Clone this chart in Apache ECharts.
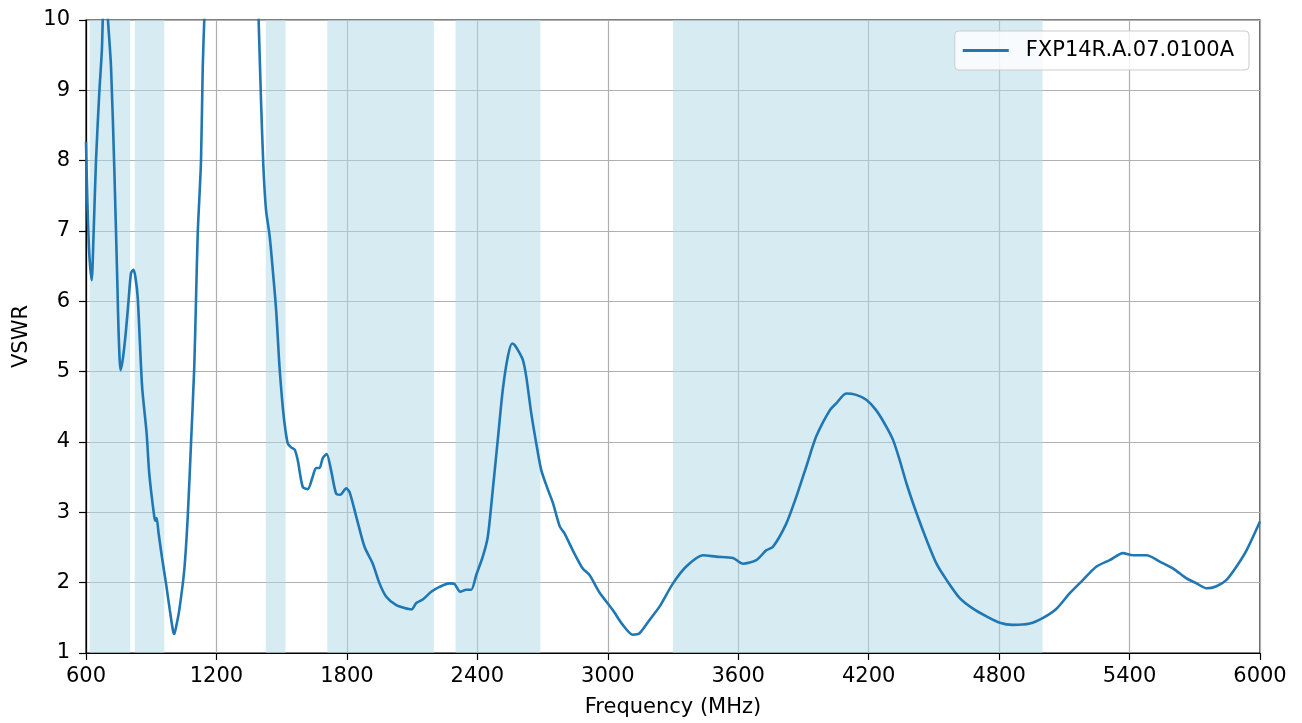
<!DOCTYPE html>
<html>
<head>
<meta charset="utf-8">
<script src="https://cdn.jsdelivr.net/npm/echarts@6/dist/echarts.min.js"></script>
<style>html,body{margin:0;padding:0;background:#fff;}#c{width:1302px;height:723px;}</style>
</head>
<body>
<div id="c"></div>
<script>
const seriesName = 'FXP14R.A.07.0100A';
const xTicks = [600, 1200, 1800, 2400, 3000, 3600, 4200, 4800, 5400, 6000];
const yTicks = [1, 2, 3, 4, 5, 6, 7, 8, 9, 10];
const bandStart = [617, 824, 1427, 1710, 2300, 3300];
const bandEnd   = [803, 960, 1518, 2200, 2690, 5000];
const freq = [600,607,615,626,635,646,661,673,678,688,700,715,730,745,750,759,768,776,784,796,807,818,827,838,858,879,891,914,920,925,934,950,968,985,1000,1006,1015,1029,1052,1068,1083,1098,1106,1114,1129,1137,1144,1160,1200,1300,1380,1394,1405,1416,1428,1443,1451,1474,1490,1502,1513,1528,1545,1560,1574,1597,1620,1643,1658,1674,1689,1707,1727,1750,1769,1797,1812,1843,1881,1919,1950,1981,2027,2065,2098,2119,2149,2188,2226,2272,2295,2321,2349,2372,2395,2425,2448,2471,2494,2517,2540,2560,2571,2586,2609,2625,2648,2671,2694,2725,2748,2779,2801,2839,2885,2916,2962,3023,3069,3115,3146,3192,3238,3300,3361,3438,3499,3576,3622,3683,3729,3760,3821,3867,3913,3959,4021,4051,4097,4143,4189,4235,4281,4312,4343,4374,4420,4466,4512,4558,4619,4680,4742,4803,4864,4941,5002,5064,5125,5186,5248,5309,5370,5416,5478,5539,5601,5662,5708,5754,5800,5846,5892,5938,6000];
const vswr = [8.27,7.35,6.68,6.30,6.97,8.0,8.96,9.57,10.1,10.8,10.05,9.34,7.91,6.16,5.55,5.02,5.15,5.35,5.59,6.02,6.40,6.45,6.35,6.05,4.79,4.12,3.55,2.94,2.88,2.92,2.70,2.35,1.99,1.62,1.32,1.27,1.38,1.61,2.18,2.94,3.98,5.07,6.02,6.97,8.0,9.34,10.0,11.5,14,17,11.5,10.0,8.86,7.91,7.30,6.97,6.73,5.9,5.07,4.60,4.27,3.98,3.92,3.89,3.74,3.36,3.33,3.51,3.63,3.63,3.77,3.83,3.60,3.27,3.25,3.34,3.29,2.94,2.51,2.27,1.99,1.80,1.68,1.64,1.62,1.71,1.76,1.87,1.94,1.99,1.98,1.87,1.90,1.90,2.11,2.37,2.65,3.32,4.03,4.74,5.21,5.40,5.38,5.31,5.17,4.93,4.41,3.98,3.60,3.32,3.13,2.80,2.70,2.46,2.20,2.11,1.86,1.61,1.40,1.26,1.28,1.47,1.66,1.99,2.23,2.39,2.37,2.35,2.27,2.32,2.46,2.51,2.84,3.22,3.65,4.08,4.45,4.55,4.69,4.67,4.60,4.45,4.22,4.03,3.74,3.41,2.99,2.61,2.27,2.04,1.78,1.63,1.52,1.43,1.40,1.42,1.50,1.63,1.85,2.04,2.23,2.32,2.42,2.39,2.39,2.30,2.20,2.06,1.99,1.92,1.95,2.04,2.23,2.46,2.87];

const font = 'DejaVu Sans';
const fs = 21;
const chart = echarts.init(document.getElementById('c'));
const lineData = freq.map((f, i) => [f, vswr[i]]);
const areas = bandStart.map((s, i) => [{xAxis: s}, {xAxis: bandEnd[i]}]);

chart.setOption({
  animation: false,
  backgroundColor: '#fff',
  textStyle: {fontFamily: font},
  grid: {left: 86, right: 42, top: 20, bottom: 70, show: true, borderColor: '#000', borderWidth: 1.2, backgroundColor: 'transparent'},
  legend: {
    right: 53, top: 31,
    data: [seriesName],
    icon: 'rect',
    itemWidth: 46, itemHeight: 3, itemGap: 10,
    backgroundColor: 'rgba(255,255,255,0.8)',
    borderColor: '#cccccc', borderWidth: 1, borderRadius: 4,
    padding: [9, 15, 9, 8],
    textStyle: {fontFamily: font, fontSize: fs, color: '#000', padding: [0, 0, 0, 12]}
  },
  xAxis: {
    type: 'value', min: xTicks[0], max: xTicks[xTicks.length - 1], interval: 600,
    name: 'Frequency (MHz)', nameLocation: 'middle', nameGap: 44,
    nameTextStyle: {fontFamily: font, fontSize: fs, color: '#000'},
    axisLine: {show: true, onZero: false, lineStyle: {color: '#000', width: 1.2}},
    axisTick: {show: true, length: 7, lineStyle: {color: '#000', width: 1.2}},
    axisLabel: {fontFamily: font, fontSize: fs, color: '#000', margin: 13, formatter: v => String(v)},
    splitLine: {show: true, lineStyle: {color: '#b0b0b0', width: 1.2}}
  },
  yAxis: {
    type: 'value', min: yTicks[0], max: yTicks[yTicks.length - 1], interval: 1,
    name: 'VSWR', nameLocation: 'middle', nameGap: 54, nameRotate: 90,
    nameTextStyle: {fontFamily: font, fontSize: fs, color: '#000'},
    axisLine: {show: true, lineStyle: {color: '#000', width: 1.2}},
    axisTick: {show: true, length: 7, lineStyle: {color: '#000', width: 1.2}},
    axisLabel: {fontFamily: font, fontSize: fs, color: '#000', margin: 16, formatter: v => String(v)},
    splitLine: {show: true, lineStyle: {color: '#b0b0b0', width: 1.2}}
  },
  series: [{
    name: seriesName,
    type: 'line',
    data: lineData,
    showSymbol: false,
    smooth: 0.25,
    clip: true,
    lineStyle: {color: '#1f77b4', width: 2.6},
    itemStyle: {color: '#1f77b4'},
    markArea: {
      silent: true,
      itemStyle: {color: 'rgba(173,216,230,0.5)'},
      data: areas
    },
    z: 3
  }]
});
</script>
</body>
</html>
